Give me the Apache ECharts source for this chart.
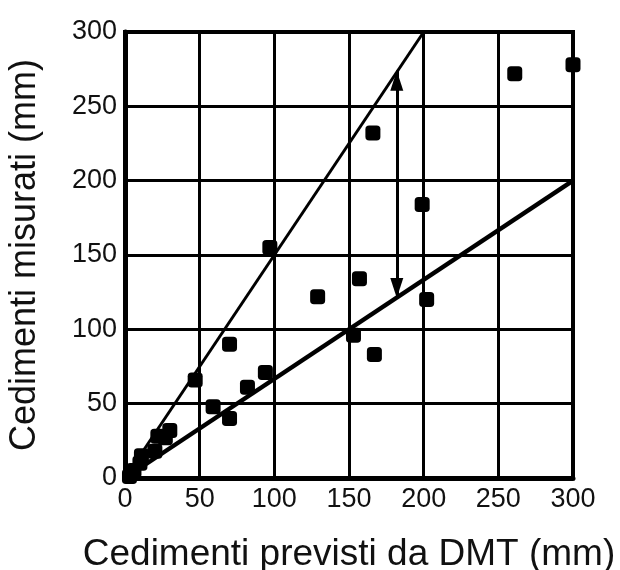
<!DOCTYPE html>
<html><head><meta charset="utf-8">
<script src="https://cdn.jsdelivr.net/npm/echarts@6/dist/echarts.min.js"></script>
<style>html,body{margin:0;padding:0;background:#fff}#c{width:620px;height:570px}</style>
</head><body><div id="c"></div>
<script>
const xTitle = 'Cedimenti previsti da DMT (mm)';
const yTitle = 'Cedimenti misurati (mm)';
const pointsX = [3, 6, 10, 11, 20, 22, 27, 30, 47, 59, 70, 70, 82, 94, 97, 129, 153, 157, 166, 167, 199, 202, 261, 300];
const pointsY = [1, 5, 10, 15, 18, 28, 27, 32, 66, 48, 40, 90, 61, 71, 155, 122, 96, 134, 232, 83, 184, 120, 272, 278];
const upperLineX = [0, 200];
const upperLineY = [0, 300];
const lowerLineX = [0, 300];
const lowerLineY = [0, 200];
const arrowX = [182, 182];
const arrowY = [121, 274];

const font = 'Liberation Sans, Arial, sans-serif';
// triangle whose tip sits at the symbol centre
const tipArrow = 'path://M0,0 L6.5,20 L-6.5,20 Z M0,-20 L0,-20';
const chart = echarts.init(document.getElementById('c'));
chart.setOption({
  animation: false,
  backgroundColor: '#fff',
  grid: {left: 125, right: 47, top: 32, bottom: 92, outerBoundsMode: 'none', containLabel: false,
         show: true, borderColor: '#000', borderWidth: 4},
  xAxis: {
    type: 'value', min: 0, max: 300, interval: 50,
    name: xTitle, nameLocation: 'middle', nameGap: 58,
    nameTextStyle: {fontFamily: font, fontSize: 37, color: '#111'},
    axisLine: {lineStyle: {color: '#000', width: 5}},
    axisTick: {show: false},
    axisLabel: {fontFamily: font, fontSize: 27, color: '#111', margin: 8},
    splitLine: {lineStyle: {color: '#000', width: 3}}
  },
  yAxis: {
    type: 'value', min: 0, max: 300, interval: 50,
    name: yTitle, nameLocation: 'middle', nameGap: 82, nameRotate: 90,
    nameTextStyle: {fontFamily: font, fontSize: 36, color: '#111'},
    axisLine: {show: true, lineStyle: {color: '#000', width: 5}},
    axisTick: {show: false},
    axisLabel: {fontFamily: font, fontSize: 27, color: '#111', margin: 8},
    splitLine: {lineStyle: {color: '#000', width: 3}}
  },
  series: [
    {type: 'line', data: upperLineX.map((x, i) => [x, upperLineY[i]]), showSymbol: false,
     lineStyle: {color: '#000', width: 3}, z: 3},
    {type: 'line', data: lowerLineX.map((x, i) => [x, lowerLineY[i]]), showSymbol: false,
     lineStyle: {color: '#000', width: 4.5}, z: 3},
    {type: 'line', data: [], markLine: {
      silent: true, symbol: [tipArrow, tipArrow], symbolSize: [13, 40],
      itemStyle: {color: '#000'},
      lineStyle: {color: '#000', width: 3, type: 'solid'}, label: {show: false},
      data: [[{coord: [arrowX[0], arrowY[0]]}, {coord: [arrowX[1], arrowY[1]]}]]
    }},
    {type: 'scatter', data: pointsX.map((x, i) => [x, pointsY[i]]), symbol: 'roundRect', symbolSize: 15,
     itemStyle: {color: '#000', opacity: 1}, z: 5}
  ]
});
</script></body></html>
